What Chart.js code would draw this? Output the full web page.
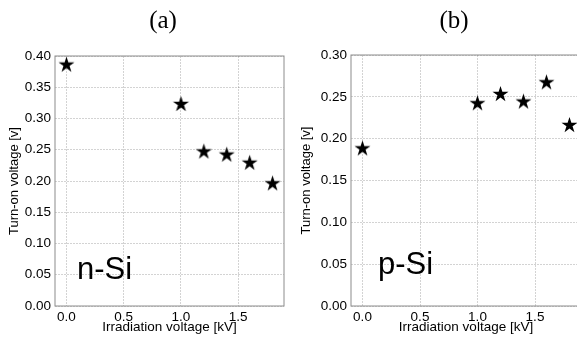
<html>
<head>
<script src="https://cdn.jsdelivr.net/npm/chart.js@4/dist/chart.umd.min.js"></script>
<style>
  html, body { margin: 0; padding: 0; background: #fff; overflow: hidden; }
  .panel { position: absolute; top: 0; height: 342px; width: 300px; }
</style>
</head>
<body>
<div class="panel" style="left:0px"><canvas id="chartA"></canvas></div>
<div class="panel" style="left:292px"><canvas id="chartB"></canvas></div>
<script>
// irradiation voltage [kV]
const irradiation = [0.0, 1.0, 1.2, 1.4, 1.6, 1.8];
// turn-on voltage [v]
const nSiTurnOn = [0.387, 0.324, 0.248, 0.243, 0.230, 0.197];
const pSiTurnOn = [0.189, 0.243, 0.254, 0.245, 0.268, 0.217];

const xTicks = [0.0, 0.5, 1.0, 1.5];
const yTicksA = [0.00, 0.05, 0.10, 0.15, 0.20, 0.25, 0.30, 0.35, 0.40];
const yTicksB = [0.00, 0.05, 0.10, 0.15, 0.20, 0.25, 0.30];

const xTitle = 'Irradiation voltage [kV]';
const yTitle = 'Turn-on voltage [v]';

// filled five point star used as point marker
function makeStar(R) {
  const size = Math.ceil(R * 2 + 2);
  const c = document.createElement('canvas');
  c.width = size; c.height = size;
  const g = c.getContext('2d');
  const cx = size / 2, cy = size / 2 + R * 0.1;
  const r = R * 0.382;
  g.beginPath();
  for (let i = 0; i < 10; i++) {
    const rad = i % 2 === 0 ? R : r;
    const a = -Math.PI / 2 + i * Math.PI / 5;
    const px = cx + rad * Math.cos(a), py = cy + rad * Math.sin(a);
    if (i === 0) g.moveTo(px, py); else g.lineTo(px, py);
  }
  g.closePath();
  g.fillStyle = '#000';
  g.fill();
  return c;
}
const star = makeStar(8.4);

const textPlugin = {
  id: 'texts',
  afterDraw(chart, args, opts) {
    const ctx = chart.ctx;
    const a = chart.chartArea;
    ctx.save();
    ctx.strokeStyle = '#8c8c8c';
    ctx.lineWidth = 1;
    ctx.strokeRect(a.left, a.top, a.right - a.left, a.bottom - a.top);
    (opts.items || []).forEach(t => {
      ctx.font = t.font;
      ctx.fillStyle = '#000';
      ctx.textAlign = t.align || 'left';
      ctx.textBaseline = 'alphabetic';
      ctx.fillText(t.text, t.x, t.y);
    });
    ctx.restore();
  }
};

function makeChart(id, values, yMax, yTicks, pad, items) {
  const gridStyle = {
    color: 'rgba(0,0,0,0.22)',
    lineWidth: 0.8,
    drawTicks: false
  };
  return new Chart(document.getElementById(id), {
    type: 'scatter',
    data: {
      datasets: [{
        data: irradiation.map((x, i) => ({ x: x, y: values[i] })),
        pointStyle: star,
        pointRadius: 8,
        pointHoverRadius: 8
      }]
    },
    options: {
      responsive: true,
      maintainAspectRatio: false,
      animation: false,
      layout: { padding: pad },
      plugins: {
        legend: { display: false },
        tooltip: { enabled: false },
        texts: { items: items }
      },
      scales: {
        x: {
          type: 'linear',
          min: -0.1, max: 1.9,
          afterBuildTicks: s => { s.ticks = xTicks.map(v => ({ value: v })); },
          afterFit: s => { s.height = 36; },
          grid: gridStyle,
          border: { display: false, dash: [2, 1] },
          ticks: {
            color: '#000',
            padding: 3,
            font: { family: 'Liberation Sans, Arial, sans-serif', size: 13.5 },
            callback: v => Number(v).toFixed(1)
          },
          title: {
            display: true, text: xTitle, color: '#000',
            padding: { top: 0, bottom: 7 },
            font: { family: 'Liberation Sans, Arial, sans-serif', size: 13.5 }
          }
        },
        y: {
          min: 0, max: yMax,
          afterBuildTicks: s => { s.ticks = yTicks.map(v => ({ value: v })); },
          afterFit: s => { s.width = pad.yWidth; },
          grid: gridStyle,
          border: { display: false, dash: [2, 1] },
          ticks: {
            color: '#000',
            padding: 4,
            font: { family: 'Liberation Sans, Arial, sans-serif', size: 13.5 },
            callback: v => Number(v).toFixed(2)
          },
          title: {
            display: true, text: yTitle, color: '#000',
            padding: { top: 7, bottom: 0 },
            font: { family: 'Liberation Sans, Arial, sans-serif', size: 13 }
          }
        }
      }
    },
    plugins: [textPlugin]
  });
}

makeChart('chartA', nSiTurnOn, 0.40, yTicksA,
  { left: 0, right: 16, top: 56, bottom: 0, yWidth: 55 },
  [
    { text: '(a)', x: 163, y: 28, font: '25px "Liberation Serif", "Times New Roman", serif', align: 'center' },
    { text: 'n-Si', x: 77, y: 279, font: '31px "Liberation Sans", Arial, sans-serif' }
  ]);

makeChart('chartB', pSiTurnOn, 0.30, yTicksB,
  { left: 0, right: 11, top: 55, bottom: 0, yWidth: 59 },
  [
    { text: '(b)', x: 162, y: 28, font: '25px "Liberation Serif", "Times New Roman", serif', align: 'center' },
    { text: 'p-Si', x: 86, y: 274, font: '31px "Liberation Sans", Arial, sans-serif' }
  ]);
</script>
</body>
</html>
